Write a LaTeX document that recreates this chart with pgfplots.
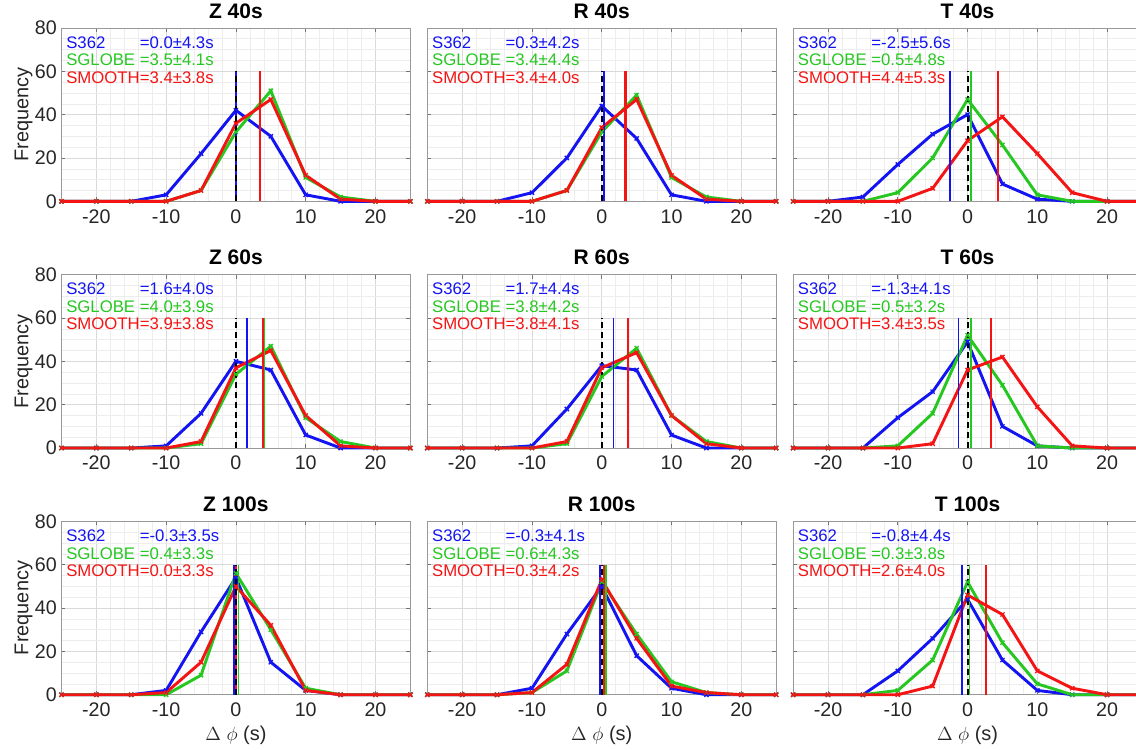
\documentclass[border=0pt]{standalone}
\usepackage{fontspec}
\setmainfont{Liberation Sans}
\usepackage{pgfplots}
\pgfplotsset{compat=1.18}
\definecolor{mblue}{rgb}{0.08,0.08,0.95}
\definecolor{mgreen}{rgb}{0.15,0.78,0.13}
\definecolor{mred}{rgb}{0.96,0.08,0.08}
\newcommand\leg{\fontsize{12.6}{14}\selectfont}
\newlength\nw
\pgfplotsset{
  panel/.style={
    scale only axis, width=262.5pt, height=130.5pt,
    anchor=north west,
    xmin=-25, xmax=25, ymin=0, ymax=80,
    xtick={-20,-10,0,10,20}, ytick={0,20,40,60,80},
    minor x tick num=4, minor y tick num=3,
    grid=both,
    major grid style={black!15, line width=0.4pt},
    minor grid style={black!7, line width=0.4pt},
    axis line style={black!40, line width=0.6pt},
    major tick style={black!55, line width=0.5pt},
    minor tick length=0pt, major tick length=3pt,
    tick align=inside,
    ticklabel style={font=\fontsize{14.8}{15}\selectfont, text=black!85},
    xticklabel style={yshift=-2.5pt},
    /pgf/number format/assume math mode=true,
    clip=false,
    title style={at={(axis description cs:0.5,1.052)}, anchor=center, font=\bfseries\fontsize{15.8}{16}\selectfont},
    every axis y label/.style={at={(axis description cs:-0.1086,0.5)}, rotate=90, anchor=center, font=\fontsize{15}{16}\selectfont, text=black!85},
    every axis x label/.style={at={(axis description cs:0.5,-0.2356)}, anchor=center, font=\fontsize{15}{16}\selectfont, text=black!85},
  },
  noy/.style={yticklabels={}},
  ser/.style={line width=2.2pt, mark=x, mark size=2.2pt, mark options={line width=1pt, solid}},
  mline/.style={line width=1.3pt, no marks},
  zline/.style={black, line width=1.5pt, no marks, dash pattern=on 4.5pt off 3pt},
}
\newcommand\stats[3]{%
  \node[anchor=base west, text=mblue, font=\leg, inner sep=0pt, xshift=3.4pt, yshift=-15.2pt] at (rel axis cs:0,1) {\makebox[\nw][l]{S362}=#1};
  \node[anchor=base west, text=mgreen, font=\leg, inner sep=0pt, xshift=3.4pt, yshift=-28.4pt] at (rel axis cs:0,1) {\makebox[\nw][l]{SGLOBE}=#2};
  \node[anchor=base west, text=mred, font=\leg, inner sep=0pt, xshift=3.4pt, yshift=-41.6pt] at (rel axis cs:0,1) {\makebox[\nw][l]{SMOOTH}=#3};
}
\newcommand\means[3]{%
  \addplot[mline, mblue] coordinates {(#1,0) (#1,60)};
  \addplot[mline, mgreen, line width=1.1pt] coordinates {(#2,0) (#2,60)};
  \addplot[mline, mred, line width=1.6pt] coordinates {(#3,0) (#3,60)};
  \addplot[zline] coordinates {(0,0) (0,60)};
}
\begin{document}
\settowidth{\nw}{\leg SMOOTH}
\begin{tikzpicture}
\path[use as bounding box] (-43.5pt,21pt) rectangle (808.5pt,-543pt);
% ---------------- Row 1
\begin{axis}[panel, at={(0pt,0pt)}, title={Z 40s}, ylabel={Frequency}]
\addplot[ser, mblue] coordinates {(-25,0)(-20,0)(-15,0)(-10,3)(-5,22)(0,42)(5,30)(10,3)(15,0)(20,0)(25,0)};
\addplot[ser, mgreen] coordinates {(-25,0)(-20,0)(-15,0)(-10,0)(-5,5)(0,32)(5,51)(10,11)(15,2)(20,0)(25,0)};
\addplot[ser, mred] coordinates {(-25,0)(-20,0)(-15,0)(-10,0)(-5,5)(0,36)(5,47)(10,12)(15,1)(20,0)(25,0)};
\means{0.0}{3.5}{3.4}
\stats{0.0±4.3s}{3.5±4.1s}{3.4±3.8s}
\end{axis}
\begin{axis}[panel, noy, at={(275.25pt,0pt)}, title={R 40s}]
\addplot[ser, mblue] coordinates {(-25,0)(-20,0)(-15,0)(-10,4)(-5,20)(0,44)(5,29)(10,3)(15,0)(20,0)(25,0)};
\addplot[ser, mgreen] coordinates {(-25,0)(-20,0)(-15,0)(-10,0)(-5,5)(0,32)(5,49)(10,11)(15,2)(20,0)(25,0)};
\addplot[ser, mred] coordinates {(-25,0)(-20,0)(-15,0)(-10,0)(-5,5)(0,34)(5,47)(10,12)(15,1)(20,0)(25,0)};
\means{0.3}{3.4}{3.4}
\stats{0.3±4.2s}{3.4±4.4s}{3.4±4.0s}
\end{axis}
\begin{axis}[panel, noy, at={(550.5pt,0pt)}, title={T 40s}]
\addplot[ser, mblue] coordinates {(-25,0)(-20,0)(-15,2)(-10,17)(-5,31)(0,40)(5,8)(10,1)(15,0)(20,0)(25,0)};
\addplot[ser, mgreen] coordinates {(-25,0)(-20,0)(-15,0)(-10,4)(-5,20)(0,47)(5,26)(10,3)(15,0)(20,0)(25,0)};
\addplot[ser, mred] coordinates {(-25,0)(-20,0)(-15,0)(-10,0)(-5,6)(0,28)(5,39)(10,22)(15,4)(20,0)(25,0)};
\means{-2.5}{0.5}{4.4}
\stats{-2.5±5.6s}{0.5±4.8s}{4.4±5.3s}
\end{axis}
% ---------------- Row 2
\begin{axis}[panel, at={(0pt,-185.625pt)}, title={Z 60s}, ylabel={Frequency}]
\addplot[ser, mblue] coordinates {(-25,0)(-20,0)(-15,0)(-10,1)(-5,16)(0,40)(5,36)(10,6)(15,0)(20,0)(25,0)};
\addplot[ser, mgreen] coordinates {(-25,0)(-20,0)(-15,0)(-10,0)(-5,2)(0,34)(5,47)(10,14)(15,3)(20,0)(25,0)};
\addplot[ser, mred] coordinates {(-25,0)(-20,0)(-15,0)(-10,0)(-5,3)(0,37)(5,45)(10,15)(15,1)(20,0)(25,0)};
\means{1.6}{4.0}{3.9}
\stats{1.6±4.0s}{4.0±3.9s}{3.9±3.8s}
\end{axis}
\begin{axis}[panel, noy, at={(275.25pt,-185.625pt)}, title={R 60s}]
\addplot[ser, mblue] coordinates {(-25,0)(-20,0)(-15,0)(-10,1)(-5,18)(0,38)(5,36)(10,6)(15,0)(20,0)(25,0)};
\addplot[ser, mgreen] coordinates {(-25,0)(-20,0)(-15,0)(-10,0)(-5,2)(0,33)(5,46)(10,15)(15,3)(20,0)(25,0)};
\addplot[ser, mred] coordinates {(-25,0)(-20,0)(-15,0)(-10,0)(-5,3)(0,37)(5,44)(10,15)(15,2)(20,0)(25,0)};
\means{1.7}{3.8}{3.8}
\stats{1.7±4.4s}{3.8±4.2s}{3.8±4.1s}
\end{axis}
\begin{axis}[panel, noy, at={(550.5pt,-185.625pt)}, title={T 60s}]
\addplot[ser, mblue] coordinates {(-25,0)(-20,0)(-15,0)(-10,14)(-5,26)(0,49)(5,10)(10,1)(15,0)(20,0)(25,0)};
\addplot[ser, mgreen] coordinates {(-25,0)(-20,0)(-15,0)(-10,1)(-5,16)(0,52)(5,29)(10,1)(15,0)(20,0)(25,0)};
\addplot[ser, mred] coordinates {(-25,0)(-20,0)(-15,0)(-10,0)(-5,2)(0,36)(5,42)(10,19)(15,1)(20,0)(25,0)};
\means{-1.3}{0.5}{3.4}
\stats{-1.3±4.1s}{0.5±3.2s}{3.4±3.5s}
\end{axis}
% ---------------- Row 3
\begin{axis}[panel, at={(0pt,-371.25pt)}, title={Z 100s}, ylabel={Frequency}, xlabel={$\Delta\ \phi$ (s)}]
\addplot[ser, mblue] coordinates {(-25,0)(-20,0)(-15,0)(-10,2)(-5,29)(0,54)(5,15)(10,2)(15,0)(20,0)(25,0)};
\addplot[ser, mgreen] coordinates {(-25,0)(-20,0)(-15,0)(-10,0)(-5,9)(0,56)(5,30)(10,3)(15,0)(20,0)(25,0)};
\addplot[ser, mred] coordinates {(-25,0)(-20,0)(-15,0)(-10,1)(-5,15)(0,50)(5,32)(10,2)(15,0)(20,0)(25,0)};
\means{-0.3}{0.4}{0.0}
\stats{-0.3±3.5s}{0.4±3.3s}{0.0±3.3s}
\end{axis}
\begin{axis}[panel, noy, at={(275.25pt,-371.25pt)}, title={R 100s}, xlabel={$\Delta\ \phi$ (s)}]
\addplot[ser, mblue] coordinates {(-25,0)(-20,0)(-15,0)(-10,3)(-5,28)(0,50)(5,18)(10,3)(15,0)(20,0)(25,0)};
\addplot[ser, mgreen] coordinates {(-25,0)(-20,0)(-15,0)(-10,1)(-5,11)(0,52)(5,28)(10,6)(15,1)(20,0)(25,0)};
\addplot[ser, mred] coordinates {(-25,0)(-20,0)(-15,0)(-10,1)(-5,14)(0,53)(5,26)(10,4)(15,1)(20,0)(25,0)};
\means{-0.3}{0.6}{0.3}
\stats{-0.3±4.1s}{0.6±4.3s}{0.3±4.2s}
\end{axis}
\begin{axis}[panel, noy, at={(550.5pt,-371.25pt)}, title={T 100s}, xlabel={$\Delta\ \phi$ (s)}]
\addplot[ser, mblue] coordinates {(-25,0)(-20,0)(-15,0)(-10,11)(-5,26)(0,44)(5,16)(10,2)(15,0)(20,0)(25,0)};
\addplot[ser, mgreen] coordinates {(-25,0)(-20,0)(-15,0)(-10,2)(-5,16)(0,52)(5,24)(10,5)(15,0)(20,0)(25,0)};
\addplot[ser, mred] coordinates {(-25,0)(-20,0)(-15,0)(-10,0)(-5,4)(0,46)(5,37)(10,11)(15,3)(20,0)(25,0)};
\means{-0.8}{0.3}{2.6}
\stats{-0.8±4.4s}{0.3±3.8s}{2.6±4.0s}
\end{axis}
\end{tikzpicture}
\end{document}
